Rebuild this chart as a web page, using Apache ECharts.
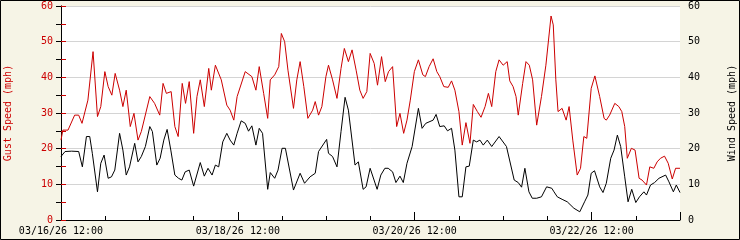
<!DOCTYPE html>
<html><head><meta charset="utf-8">
<script src="https://cdn.jsdelivr.net/npm/echarts@6/dist/echarts.min.js"></script>
<style>html,body{margin:0;padding:0;background:#f6f4e6}#c{width:740px;height:240px}</style>
</head><body><div id="c"></div>
<script>
// Hours after 03/16/26 12:00
const gustHours = [0,0.5,1.9,3.7,4.8,5.7,7.3,8.7,9.9,10.8,11.9,12.8,13.8,14.7,15.9,16.8,17.7,18.8,19.8,20.9,21.8,24.1,25.4,26.8,27.7,28.6,29.9,30.9,31.8,32.9,33.8,34.8,36,36.9,37.8,38.9,40.1,40.8,41.9,43.5,45,45.9,46.9,47.8,50,51.8,52.9,53.8,55,56.1,56.8,58,59.1,59.8,60.7,61.6,63.1,64,64.9,65.9,67,68.3,69,69.9,70.8,71.9,72.6,73.7,74.9,76,76.9,78,79,80.1,81.1,82,83,83.9,85,85.9,87,88,88.9,90,91.1,92,93,93.9,94.8,95.9,97,98.2,98.9,99.9,101,102,102.8,103.9,105.1,106,106.9,108,108.9,109.9,111,111.9,113,114,115.1,116,116.9,118,118.9,120,121.1,121.8,122.7,123.5,124.1,125.3,126.2,127.1,128,129.1,130.4,131.6,133,133.6,134.3,134.9,136,137.1,137.9,138.9,140.1,141,141.9,142.7,143.9,144.9,146.2,147.4,148,148.9,150.3,151.4,152.2,153,153.7,154.8,155.8,156.9,157.7,158.9,159.8,160.9,161.8,162.7,163.8,164.8,165.9,166.8,168];
const gustValues = [22.4,25.2,25.2,29.4,29.4,27.1,33.6,47.2,29,31.8,41.6,37.4,35,41.1,36.4,31.8,36.4,26.2,29.9,22.4,24.8,34.6,32.7,29.4,38.3,35.5,36,26.2,23.4,38.3,32.7,38.8,24.3,34.6,39.3,31.8,42.5,36.4,43.4,39.3,32.2,30.8,28,34.6,41.6,40.2,36.4,43,35.5,28.5,39.3,40.7,43,52.3,50,42,31.3,39.3,44.4,37.4,28.5,30.8,33.2,29.4,31.8,40.2,43.4,39.3,34.1,42.5,48.1,44.4,47.7,42,36.4,34.1,36,46.7,43.9,37.8,45.8,38.8,41.6,43,26.2,29.9,24.3,28,33.6,41.6,44.9,40.7,40.2,43,45.2,41.6,40.2,37.4,37.2,39,36.4,30.4,21,27.3,21.5,32.4,30.4,28.8,31.8,35.5,31.8,41.6,44.9,43.4,44.4,39,37.4,34.6,29.4,38.3,44.4,43.4,39.3,26.6,34.6,43.4,57.2,54.7,39.3,30.4,31.3,28,31.8,22.4,12.6,14.5,23.4,22.9,36.9,40.4,34.6,28.5,28,29.4,32.7,31.8,30.4,26.2,17.3,20.1,19.6,11.7,11.2,9.8,14.9,14.5,16.3,17.3,17.9,15.9,11.5,14.5,14.5];
const windHours = [0,1.1,2.9,4.8,5.8,6.9,7.8,8.5,9.9,10.8,11.7,12.8,13.7,14.6,15.9,16.8,17.7,18.6,20,20.9,21.8,22.9,24.1,24.8,26,26.9,27.9,28.8,29.8,30.9,31.9,32.8,33.7,34.8,36,37.8,38.9,39.9,41,41.9,42.8,43.9,45,45.9,46.9,47.8,48.9,50,50.9,51.8,52.9,53.8,54.7,56.1,56.8,58,58.9,60,60.9,63.1,64.9,66.1,67.6,69,69.9,72.1,72.6,73.7,74.9,76,77.1,78,79.8,80.7,82,82.8,83.9,85.8,86.8,87.9,88.8,90,90.9,92,92.9,93.9,95.3,97,98,99,101,101.8,102.8,104,104.9,106,106.9,108,108.9,109.9,110.8,111.9,112.8,113.7,114.6,115.7,116.9,118.9,120.9,123,124.1,125,125.9,127,127.9,129.1,130.4,131.8,133.2,133.8,134.7,136,137.4,139.2,140.8,142.1,143,143.9,144.8,146.2,147.1,148,149.2,150.1,151,151.9,153,153.9,154.9,156,157,158.2,158.9,160,161.1,162.3,164.1,165,166.2,167,168];
const windValues = [17.8,19.2,19.3,19.2,14.9,23.4,23.4,18.7,7.9,15.9,18.2,11.7,12.1,14,24.3,19.6,12.6,14.9,21.5,16.3,17.8,20.6,26.2,24.8,15.4,17.3,22.4,25.4,19.6,12.6,11.7,11.2,13.5,14,9.5,16.1,12.3,14.5,12.6,15.4,14.9,21.9,24.3,22.4,21,24.3,27.8,27.1,24.9,26.4,21,25.7,24.3,8.6,13.3,11.7,14,20.1,20.1,8.4,13.1,10.3,12.1,13.1,19.2,22.6,18.7,17.8,14.9,24.8,34.4,30.8,15.4,16.3,8.6,9.3,14.5,8.6,12.6,14.5,14.5,13.5,10.5,12.3,10.5,15.9,20.6,31.3,25.7,27.1,28,29.6,26.2,26.4,25,25.7,19.6,6.5,6.5,14.9,15.1,22.4,21.9,22.4,21,22.4,20.6,23.4,20.6,11.2,10.5,9.2,14.5,7.9,6.1,6.1,6.5,9.3,8.9,7.9,6.5,5.8,5.1,3.3,2.3,5.1,7,13.1,13.8,9.3,7.7,10.3,17.3,19.6,23.8,20.6,12.1,5.1,8.6,4.9,6.5,7.9,7,9.8,10.5,11.7,12.6,10.7,7.9,9.8,7.7];
const xTickLabels = ['03/16/26 12:00','03/18/26 12:00','03/20/26 12:00','03/22/26 12:00'];

const font = 'DejaVu Sans Mono';
const red = '#cc0000';
const chart = echarts.init(document.getElementById('c'));
chart.setOption({
  animation: false,
  backgroundColor: '#f6f4e6',
  textStyle: {fontFamily: font},
  grid: {left: 61, right: 60, top: 6, bottom: 20, show: true, backgroundColor: '#ffffff', borderWidth: 0,
         containLabel: false, outerBoundsMode: 'none'},
  xAxis: [
    {type: 'value', min: 0, max: 168, interval: 12,
     axisLine: {lineStyle: {color: '#000', width: 1}},
     axisTick: {inside: true, length: 4, lineStyle: {color: '#000'}},
     axisLabel: {show: false}, splitLine: {show: false}},
    {type: 'value', min: 0, max: 168, interval: 48, position: 'bottom',
     axisLine: {show: false},
     axisTick: {inside: true, length: 8, lineStyle: {color: '#000'}},
     axisLabel: {show: true, margin: 6, fontFamily: font, fontSize: 10, color: '#000',
       formatter: v => xTickLabels[Math.round(v / 48)] || ''},
     splitLine: {show: false}}
  ],
  yAxis: [
    {type: 'value', min: 0, max: 60, interval: 10, position: 'left',
     name: 'Gust Speed (mph)', nameLocation: 'middle', nameGap: 48, nameRotate: 90,
     nameTextStyle: {color: red, fontFamily: font, fontSize: 10},
     axisLine: {show: true, lineStyle: {color: red, width: 1}},
     axisTick: {show: true, inside: true, length: 5, lineStyle: {color: red}},
     minorTick: {show: true, splitNumber: 2, length: 5, lineStyle: {color: red}},
     axisLabel: {color: red, fontFamily: font, fontSize: 10, margin: 8},
     splitLine: {show: true, lineStyle: {color: '#d4d4d4', width: 1}}},
    {type: 'value', min: 0, max: 60, interval: 10, position: 'right',
     name: 'Wind Speed (mph)', nameLocation: 'middle', nameGap: 47, nameRotate: 90,
     nameTextStyle: {color: '#000', fontFamily: font, fontSize: 10},
     axisLine: {show: true, lineStyle: {color: '#000', width: 1}},
     axisTick: {show: true, inside: true, length: 5, lineStyle: {color: '#000'}},
     minorTick: {show: true, splitNumber: 2, length: 5, lineStyle: {color: '#000'}},
     axisLabel: {color: '#000', fontFamily: font, fontSize: 10, margin: 8},
     splitLine: {show: false}}
  ],
  series: [
    {name: 'Gust', type: 'line', xAxisIndex: 0, yAxisIndex: 0, showSymbol: false, symbol: 'none',
     lineStyle: {color: red, width: 1}, itemStyle: {color: red},
     data: gustHours.map((h, i) => [h, gustValues[i]])},
    {name: 'Wind', type: 'line', xAxisIndex: 0, yAxisIndex: 1, showSymbol: false, symbol: 'none',
     lineStyle: {color: '#000', width: 1}, itemStyle: {color: '#000'},
     data: windHours.map((h, i) => [h, windValues[i]])}
  ],
  graphic: [{type: 'rect', silent: true, shape: {x: 0.5, y: 0.5, width: 739, height: 239},
     style: {fill: 'none', stroke: '#000', lineWidth: 1}}]
});
</script></body></html>
